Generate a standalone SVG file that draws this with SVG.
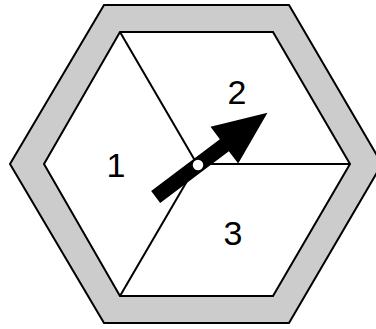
<svg xmlns="http://www.w3.org/2000/svg" width="376" height="329" viewBox="0 0 376 329">
<style>
.frame{fill:#cccccc;stroke:#000;stroke-width:2;stroke-linejoin:miter}
.inner{fill:#fff;stroke:#000;stroke-width:2;stroke-linejoin:miter}
.div{stroke:#000;stroke-width:2;fill:none}
.lbl{font-family:"Liberation Sans",Arial,sans-serif;font-size:34px;fill:#000;text-anchor:middle}
</style>
<rect width="376" height="329" fill="#fff"/>
<g id="frame">
<polygon class="frame" points="104,5 289,5 382,164 289,323 104,323 10,164"/>
<polygon class="inner" points="120,32 273,32 350,164 273,296 120,296 44,164"/>
</g>
<g id="connectors">
<line class="div" x1="197" y1="164" x2="120" y2="32"/>
<line class="div" x1="197" y1="164" x2="350" y2="164"/>
<line class="div" x1="197" y1="164" x2="120" y2="296"/>
</g>
<g id="sector1"><text class="lbl" x="116" y="177">1</text></g>
<g id="sector2"><text class="lbl" x="237" y="104">2</text></g>
<g id="sector3"><text class="lbl" x="233" y="245">3</text></g>
<g id="spinner">
<polygon transform="translate(198,165) rotate(-37)" points="-53,-7.5 33,-7.5 33,-23 87,0 33,23 33,7.5 -53,7.5" fill="#000"/>
<circle cx="198" cy="165" r="6" fill="#fff" stroke="#000" stroke-width="1.5"/>
</g>
</svg>
